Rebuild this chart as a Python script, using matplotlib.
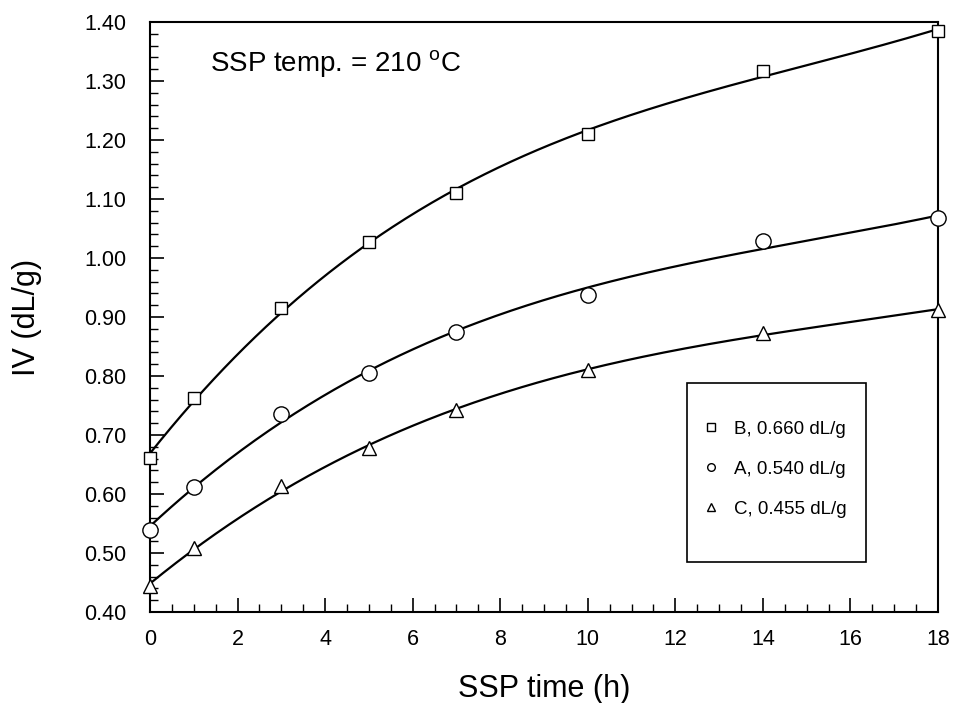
import numpy as np
import matplotlib
matplotlib.use("Agg")
import matplotlib.pyplot as plt
from matplotlib.patches import Rectangle
from matplotlib.lines import Line2D

plt.rcParams['font.family'] = ['Liberation Sans', 'DejaVu Sans']
plt.rcParams['mathtext.fontset'] = 'custom'
plt.rcParams['mathtext.rm'] = 'Liberation Sans'

time_h = [0, 1, 3, 5, 7, 10, 14, 18]
iv_B = [0.661, 0.763, 0.915, 1.027, 1.110, 1.210, 1.317, 1.385]
iv_A = [0.539, 0.612, 0.736, 0.805, 0.875, 0.937, 1.029, 1.068]
iv_C = [0.444, 0.508, 0.613, 0.678, 0.742, 0.810, 0.873, 0.912]
labels = ["B, 0.660 dL/g", "A, 0.540 dL/g", "C, 0.455 dL/g"]
markers = ["s", "o", "^"]
msizes = [8, 11, 10]

fig = plt.figure(figsize=(9.54, 7.03), dpi=100)
ax = fig.add_axes([0.1572, 0.1294, 0.826, 0.8393])

t = np.array(time_h, dtype=float)
tt = np.linspace(0, 18, 300)
for y, m, ms in zip([iv_B, iv_A, iv_C], markers, msizes):
    coef = np.polyfit(t, np.array(y), 3)
    ax.plot(tt, np.polyval(coef, tt), color='black', lw=1.6, zorder=2, clip_on=False)
    ax.plot(t, y, linestyle='none', marker=m, ms=ms, mfc='white', mec='black',
            mew=1.0, zorder=3, clip_on=False)

ax.set_xlim(0, 18)
ax.set_ylim(0.40, 1.40)
ax.set_xticks(np.arange(0, 19, 2))
ax.set_xticks(np.arange(0, 18.01, 0.5), minor=True)
ax.set_yticks(np.arange(0.40, 1.401, 0.10))
ax.set_yticks(np.arange(0.40, 1.401, 0.02), minor=True)
ax.set_yticklabels([f"{v:.2f}" for v in np.arange(0.40, 1.401, 0.10)])
ax.tick_params(axis='both', which='major', direction='in', length=10, width=1.2,
               labelsize=15.5, top=False, right=False)
ax.tick_params(axis='y', which='major', pad=17)
ax.tick_params(axis='x', which='major', pad=12)
ax.tick_params(axis='both', which='minor', direction='in', length=6, width=1.0,
               top=False, right=False)
for s in ax.spines.values():
    s.set_linewidth(1.5)

ax.set_xlabel("SSP time (h)", fontsize=22)
ax.set_ylabel("IV (dL/g)", fontsize=22)
ax.xaxis.set_label_coords(0.5, -0.105)
ax.yaxis.set_label_coords(-0.137, 0.5)

ax.text(0.076, 0.929, "SSP temp. = 210 $^{\\rm o}$C", transform=ax.transAxes,
        fontsize=20, va='center', ha='left')

# legend box
x0, y0, x1, y1 = 0.681, 0.085, 0.909, 0.388
ax.add_patch(Rectangle((x0, y0), x1 - x0, y1 - y0, transform=ax.transAxes,
                       fill=False, edgecolor='black', lw=1.2, zorder=4))
handles = [Line2D([], [], linestyle='none', marker=m, ms=5.5, mfc='white',
                  mec='black', mew=1.0) for m in markers]
leg = ax.legend(handles, labels, loc='upper left', bbox_to_anchor=(x0 + 0.019, y1 - 0.064),
                frameon=False, fontsize=13.5, labelspacing=1.21, handlelength=1.0,
                handletextpad=0.75, borderaxespad=0, borderpad=0)

fig.savefig("out.png", dpi=100)
